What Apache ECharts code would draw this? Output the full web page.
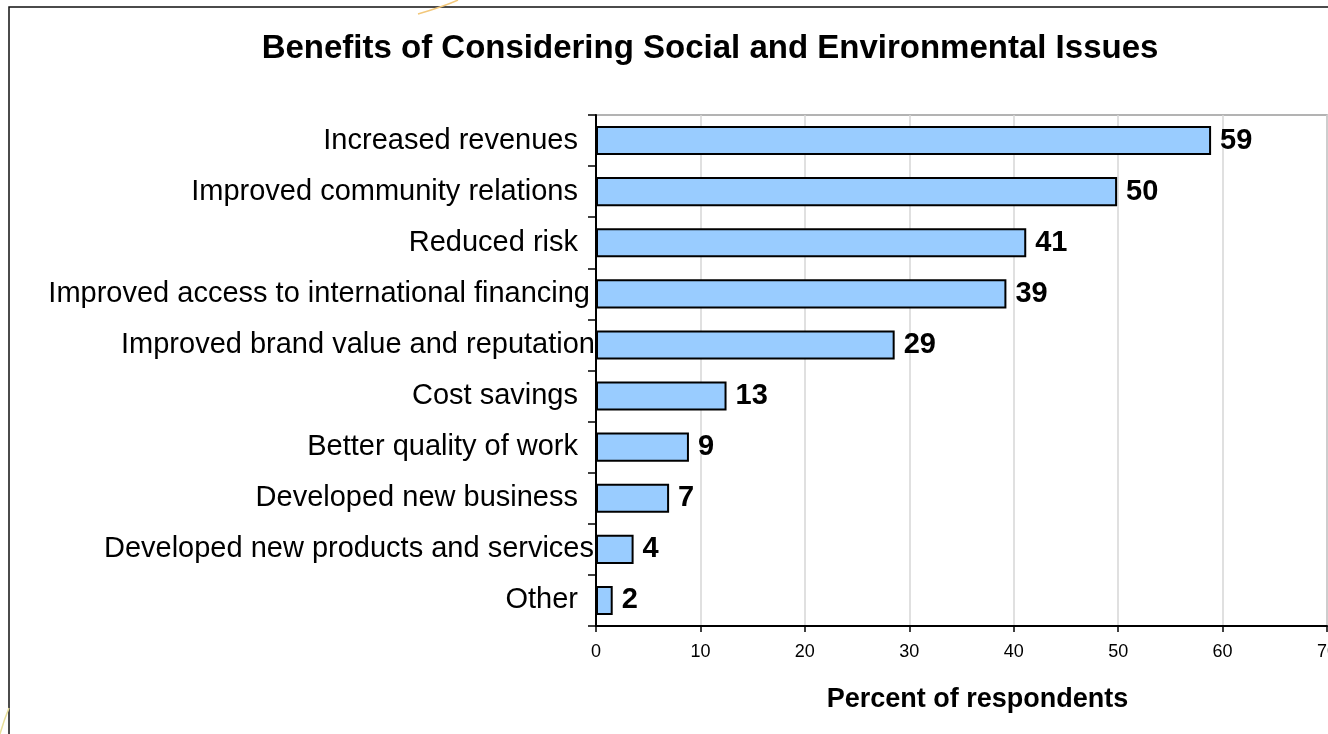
<!DOCTYPE html>
<html>
<head>
<meta charset="utf-8">
<script src="https://cdn.jsdelivr.net/npm/echarts@6/dist/echarts.min.js"></script>
<style>
  html, body { margin: 0; padding: 0; background: #fff; }
  #chart { width: 1328px; height: 734px; }
</style>
</head>
<body>
<div id="chart"></div>
<script>
  const categories = [
    'Increased revenues',
    'Improved community relations',
    'Reduced risk',
    'Improved access to international financing',
    'Improved brand value and reputation',
    'Cost savings',
    'Better quality of work',
    'Developed new business',
    'Developed new products and services',
    'Other'
  ];
  const percents = [58.9, 49.9, 41.2, 39.3, 28.6, 12.5, 8.9, 7.0, 3.6, 1.6];
  const xTicks = [0, 10, 20, 30, 40, 50, 60, 70];

  // long labels run past the usual gap, like in the source slide
  const labelGap = {
    'Improved access to international financing': 6,
    'Improved brand value and reputation': 1,
    'Developed new products and services': 2
  };

  const font = '"Liberation Sans", Arial, Helvetica, sans-serif';
  const chart = echarts.init(document.getElementById('chart'), null, { renderer: 'canvas' });

  chart.setOption({
    animation: false,
    backgroundColor: '#fff',
    title: {
      text: 'Benefits of Considering Social and Environmental Issues',
      left: 705,
      top: 27,
      textAlign: 'center',
      textStyle: { fontFamily: font, fontSize: 33, fontWeight: 'bold', color: '#000' }
    },
    grid: {
      left: 596, right: 1, top: 115, bottom: 108,
      outerBoundsMode: 'none',
      containLabel: false,
      show: true, borderColor: '#9a9a9a', borderWidth: 1.5
    },
    xAxis: {
      type: 'value',
      min: xTicks[0],
      max: xTicks[xTicks.length - 1],
      interval: 10,
      name: 'Percent of respondents',
      nameLocation: 'middle',
      nameGap: 60,
      nameTextStyle: { fontFamily: font, fontSize: 27, fontWeight: 'bold', color: '#000', padding: [0, 0, 0, 32] },
      axisLine: { show: true, lineStyle: { color: '#000', width: 2 } },
      axisTick: { show: true, length: 6, lineStyle: { color: '#000', width: 1.5 } },
      axisLabel: { margin: 17, fontFamily: font, fontSize: 18, color: '#000', showMaxLabel: true },
      splitLine: { show: true, lineStyle: { color: '#d6d6d6', width: 1.5 } }
    },
    yAxis: {
      type: 'category',
      inverse: true,
      data: categories.map(c => ({
        value: c,
        textStyle: { padding: [0, (c in labelGap ? labelGap[c] : 18), 0, 0] }
      })),
      axisLine: { show: true, lineStyle: { color: '#000', width: 2 } },
      axisTick: { show: true, length: 8, lineStyle: { color: '#000', width: 1.5 } },
      axisLabel: { interval: 0, margin: 0, fontFamily: font, fontSize: 29, color: '#000' },
      splitLine: { show: false }
    },
    series: [{
      type: 'bar',
      data: percents,
      barWidth: '57%',
      itemStyle: { color: '#99ccff', borderColor: '#000', borderWidth: 2 },
      label: {
        show: true,
        position: 'right',
        distance: 9,
        fontFamily: font,
        fontSize: 29,
        fontWeight: 'bold',
        color: '#000',
        formatter: p => Math.round(p.value)
      }
    }],
    graphic: [
      {
        type: 'polyline',
        silent: true,
        shape: { points: [[9, 734], [9, 7], [1328, 7]] },
        style: { stroke: '#111', lineWidth: 1.5, fill: null }
      },
      {
        type: 'bezierCurve',
        silent: true,
        shape: { x1: 458, y1: 0, x2: 418, y2: 14, cpx1: 445, cpy1: 6 },
        style: { stroke: '#f2c77a', lineWidth: 1.5, fill: null }
      },
      {
        type: 'bezierCurve',
        silent: true,
        shape: { x1: 9, y1: 708, x2: 0, y2: 734, cpx1: 4, cpy1: 720 },
        style: { stroke: '#e8df9a', lineWidth: 1.5, fill: null }
      }
    ]
  });
</script>
</body>
</html>
